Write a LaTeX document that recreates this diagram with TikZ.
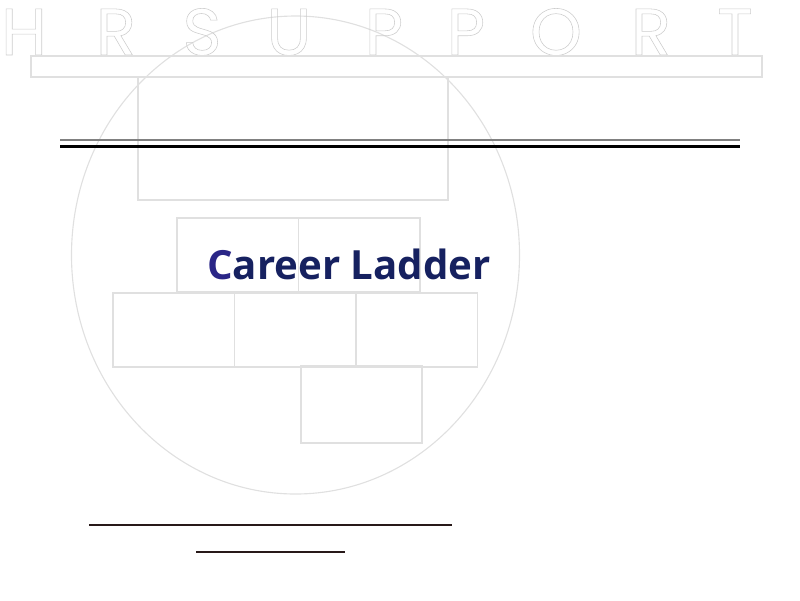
\documentclass[tikz,border=0pt]{standalone}
\usepackage{fontspec}
\newfontfamily\lettrefont{Poppins}
\newfontfamily\titrefont{Open Sans}
\definecolor{encre}{RGB}{22,33,96}
\definecolor{encreC}{RGB}{42,38,135}
\definecolor{trait}{RGB}{40,25,25}
\tikzset {trame/.style={draw=black!12, line width=0.8pt},
          lettre/.style={anchor=base, inner sep=0pt, text=black!20,
                         font=\lettrefont\fontsize{47}{47}\selectfont},
          titre/.style={inner sep=0pt, text=encre,
                        font=\titrefont\bfseries\fontsize{28.6}{28.6}\selectfont}}
\newcommand{\creux}[1]{\special{pdf:literal direct 1 Tr 0.4 w}#1\special{pdf:literal direct 0 Tr}}
\newcommand{\brique}[2]{\draw[trame] (#1,#2) rectangle ++(121.5,74);}

\begin{document}
\begin{tikzpicture}[x=0.025cm,y=-0.025cm]
  \useasboundingbox (0,0) rectangle (800,600);
  \draw[trame] (295.5,255) ellipse [x radius=224, y radius=239];
  \foreach \car/\px [count=\i] in {H/24,R/116,S/202,U/289,P/384,P/466,O/556,R/651,T/735}
    \node[lettre] (lettre\i) at (\px,55) {\creux{\car}};
  \draw[trame] (31,56) rectangle (762,77);
  \draw[trame] (138,77) rectangle (448,200);
  \brique{177}{218} \brique{298.5}{218}
  \brique{113}{293} \brique{234.5}{293} \brique{356}{293}
  \draw[trame] (301,366) rectangle (422,443);
  \draw[black!50, line width=1.2pt] (60,140) -- (740,140);
  \draw[line width=2.8pt] (60,146.5) -- (740,146.5);
  \node[titre] (titre) at (349,264) {\textcolor{encreC}{C}areer Ladder};
  \draw[trait, line width=1.4pt] (89,525) -- (452,525);
  \draw[trait, line width=1.4pt] (196,552) -- (345,552);
\end{tikzpicture}
\end{document}
